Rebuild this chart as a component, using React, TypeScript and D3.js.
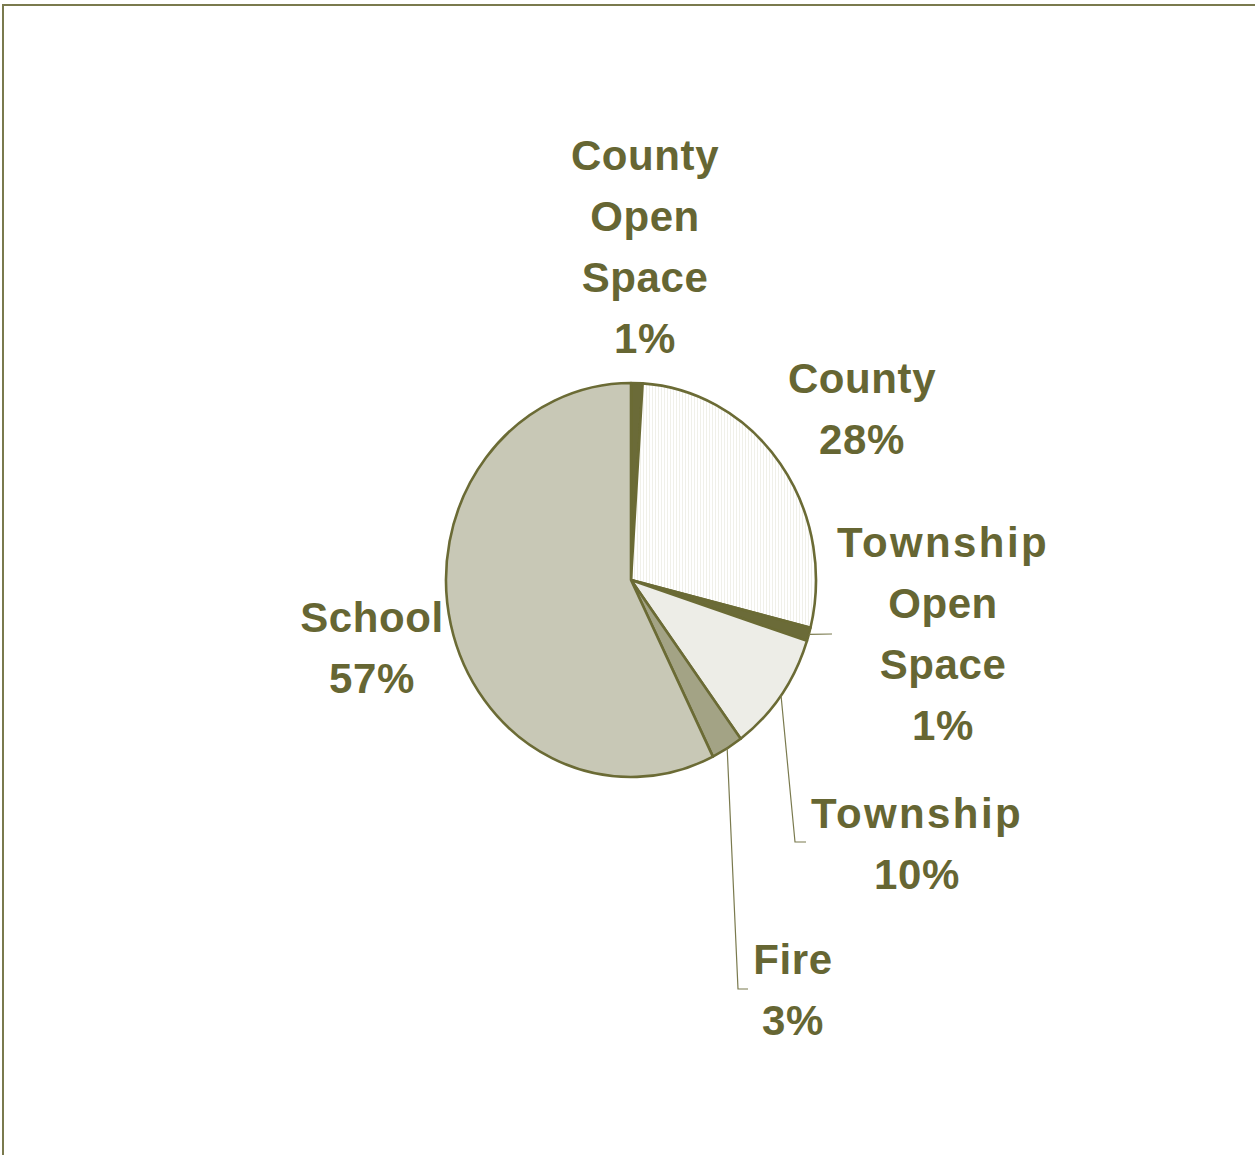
import React, { useRef, useEffect } from "react";
import * as d3 from "d3";

// slice data, clockwise from 12 o'clock
const categories = ["County Open Space", "County", "Township Open Space", "Township", "Fire", "School"];
const shares = [1.0, 27.9, 1.1, 9.9, 2.8, 57.3];
const labelText = ["1%", "28%", "1%", "10%", "3%", "57%"];

const sliceFill = ["#6b6b38", "url(#hatch)", "#6b6b38", "#ededE7", "#a3a385", "#c8c8b6"];

// label layout: anchor center x, first baseline y, optional leader polyline end
const labelLayout = [
  { x: 645, y: 170, lines: ["County", "Open", "Space"], leader: null },
  { x: 862, y: 393, lines: ["County"], leader: null },
  { x: 943, y: 557, lines: ["Township", "Open", "Space"], leader: [[832, 634]] },
  { x: 917, y: 828, lines: ["Township"], leader: [[795, 842], [806, 842]] },
  { x: 793, y: 974, lines: ["Fire"], leader: [[738, 989], [748, 989]] },
  { x: 372, y: 632, lines: ["School"], leader: null },
];

const App = () => {
  const ref = useRef<SVGSVGElement>(null);

  useEffect(() => {
    const svg = d3.select(ref.current);
    svg.selectAll("*").remove();

    const width = 1255;
    const height = 1155;
    const cx = 631;
    const cy = 580;
    const r = 185;
    const sy = 1.065; // the pie is a bit taller than wide

    const olive = "#666633";

    const defs = svg.append("defs");
    const pat = defs
      .append("pattern")
      .attr("id", "hatch")
      .attr("patternUnits", "userSpaceOnUse")
      .attr("width", 3)
      .attr("height", 3);
    pat.append("rect").attr("width", 3).attr("height", 3).attr("fill", "#ffffff");
    pat.append("line").attr("x1", 0.5).attr("y1", 0).attr("x2", 0.5).attr("y2", 3)
      .attr("stroke", "#ecece4").attr("stroke-width", 0.7);

    // frame
    svg.append("path")
      .attr("d", `M3,${height + 10} L3,5 L${width + 10},5`)
      .attr("fill", "none")
      .attr("stroke", "#7a7a4e")
      .attr("stroke-width", 2);

    const pie = d3.pie<number>().sort(null).value((d) => d);
    const arcs = pie(shares);
    const arc = d3.arc<d3.PieArcDatum<number>>().innerRadius(0).outerRadius(r);

    const g = svg.append("g").attr("transform", `translate(${cx},${cy}) scale(1,${sy})`);
    g.selectAll("path")
      .data(arcs)
      .enter()
      .append("path")
      .attr("d", arc)
      .attr("fill", (_d, i) => sliceFill[i])
      .attr("stroke", "#6b6b35")
      .attr("stroke-width", 2.6)
      .attr("stroke-linejoin", "round")
      .attr("vector-effect", "non-scaling-stroke");

    // leader lines from slice edge at mid angle
    arcs.forEach((a, i) => {
      const lay = labelLayout[i];
      if (!lay.leader) return;
      const mid = (a.startAngle + a.endAngle) / 2;
      const start: [number, number] = [cx + r * Math.sin(mid), cy - r * Math.cos(mid) * sy];
      const pts = [start, ...(lay.leader as [number, number][])];
      svg.append("path")
        .attr("d", d3.line()(pts))
        .attr("fill", "none")
        .attr("stroke", "#7a7a4e")
        .attr("stroke-width", 1.2);
    });

    // labels
    const lineH = 61;
    labelLayout.forEach((lay, i) => {
      const t = svg.append("text")
        .attr("x", lay.x)
        .attr("y", lay.y)
        .attr("text-anchor", "middle")
        .attr("fill", olive)
        .style("font-family", "'Liberation Sans', Arial, sans-serif")
        .style("font-weight", "bold")
        .style("font-size", "42px");
      const rows = [...lay.lines, labelText[i]];
      rows.forEach((row, j) => {
        t.append("tspan")
          .attr("x", lay.x)
          .attr("y", lay.y + j * lineH)
          .style("letter-spacing", row === "Township" ? "2.4px" : "0.6px")
          .text(row);
      });
    });
  }, []);

  return (
    <svg
      ref={ref}
      width={1255}
      height={1155}
      style={{ position: "absolute", left: 0, top: 0, background: "#fff" }}
    />
  );
};

export default App;
